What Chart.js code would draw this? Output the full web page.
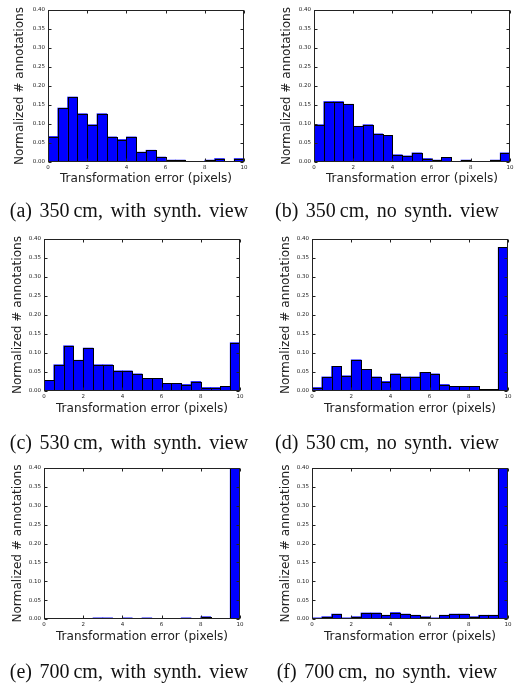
<!DOCTYPE html>
<html>
<head>
<meta charset="utf-8">
<script src="https://cdn.jsdelivr.net/npm/chart.js@4.4.1/dist/chart.umd.min.js"></script>
<style>
  body { margin: 0; background: #fff; }
  #page { position: relative; width: 516px; height: 683px; overflow: hidden; background: #fff; }
  canvas { position: absolute; }
  .cap {
    position: absolute; width: 258px; text-align: center; white-space: nowrap;
    font-family: "Liberation Serif", "Times New Roman", serif; font-size: 20px;
    word-spacing: 2.5px; line-height: 22px; color: #111;
  }
</style>
</head>
<body>
<div id="page">
  <canvas id="ch-a" width="258" height="229"></canvas>
  <canvas id="ch-b" width="258" height="229"></canvas>
  <canvas id="ch-c" width="258" height="229"></canvas>
  <canvas id="ch-d" width="258" height="229"></canvas>
  <canvas id="ch-e" width="258" height="229"></canvas>
  <canvas id="ch-f" width="258" height="229"></canvas>
  <div class="cap" id="cap-a">(a) 350&#8201;cm, with synth. view</div>
  <div class="cap" id="cap-b">(b) 350&#8201;cm, no synth. view</div>
  <div class="cap" id="cap-c">(c) 530&#8201;cm, with synth. view</div>
  <div class="cap" id="cap-d">(d) 530&#8201;cm, no synth. view</div>
  <div class="cap" id="cap-e">(e) 700&#8201;cm, with synth. view</div>
  <div class="cap" id="cap-f">(f) 700&#8201;cm, no synth. view</div>
</div>
<script>
// histogram bins (pixel error), 0.5 wide
const binCenters = [0.25, 0.75, 1.25, 1.75, 2.25, 2.75, 3.25, 3.75, 4.25, 4.75,
                    5.25, 5.75, 6.25, 6.75, 7.25, 7.75, 8.25, 8.75, 9.25, 9.75];
const xTicks = [0, 2, 4, 6, 8, 10];
const yTicks = [0, 0.05, 0.10, 0.15, 0.20, 0.25, 0.30, 0.35, 0.40];

// normalized # annotations per bin
const hist350Synth   = [0.067, 0.142, 0.171, 0.127, 0.098, 0.127, 0.066, 0.059, 0.066, 0.026,
                        0.031, 0.013, 0.005, 0.005, 0, 0, 0.005, 0.009, 0, 0.009];
const hist350NoSynth = [0.098, 0.159, 0.159, 0.152, 0.094, 0.098, 0.074, 0.070, 0.019, 0.016,
                        0.024, 0.009, 0.005, 0.012, 0, 0.005, 0, 0, 0.005, 0.024];
const hist530Synth   = [0.028, 0.069, 0.119, 0.081, 0.113, 0.069, 0.069, 0.053, 0.053, 0.045,
                        0.033, 0.033, 0.020, 0.020, 0.017, 0.025, 0.009, 0.009, 0.012, 0.127];
const hist530NoSynth = [0.009, 0.037, 0.065, 0.040, 0.082, 0.057, 0.037, 0.025, 0.045, 0.037,
                        0.037, 0.049, 0.045, 0.017, 0.012, 0.012, 0.012, 0.004, 0.004, 0.378];
const hist700Synth   = [0, 0, 0, 0, 0, 0.003, 0.003, 0, 0.003, 0,
                        0.003, 0, 0, 0, 0.003, 0, 0.006, 0, 0, 0.95];
const hist700NoSynth = [0.003, 0.006, 0.013, 0.003, 0.006, 0.016, 0.016, 0.010, 0.017, 0.013,
                        0.010, 0.006, 0.003, 0.010, 0.013, 0.013, 0.006, 0.010, 0.010, 0.86];

const xTitle = 'Transformation error (pixels)';
const yTitle = 'Normalized # annotations';

const TITLE_SIZE = 12.1;
const TICK_FONT = { family: 'DejaVu Sans', size: 5.5 };
const TICK_COLOR = '#222';

// frame, inward ticks and bar edges (matplotlib look)
const mplFrame = {
    id: 'mplFrame',
    afterDatasetsDraw(chart) {
        const { ctx, chartArea: a, scales: { x, y } } = chart;
        ctx.save();
        ctx.beginPath();
        ctx.rect(a.left, a.top, a.right - a.left, a.bottom - a.top);
        ctx.clip();
        ctx.strokeStyle = '#000';
        ctx.lineWidth = 1;
        chart.getDatasetMeta(0).data.forEach(bar => {
            const p = bar.getProps(['x', 'y', 'base', 'width'], true);
            const l = Math.round(p.x - p.width / 2) + 0.5;
            const r = Math.round(p.x + p.width / 2) + 0.5;
            const t = Math.round(p.y) + 0.5;
            const b = Math.round(p.base) + 0.5;
            ctx.strokeRect(l, t, r - l, b - t);
        });
        ctx.restore();

        ctx.save();
        ctx.strokeStyle = '#222';
        ctx.lineWidth = 1;
        const L = Math.round(a.left) + 0.5, R = Math.round(a.right) - 0.5;
        const T = Math.round(a.top) + 0.5, B = Math.round(a.bottom) - 0.5;
        ctx.strokeRect(L, T, R - L, B - T);
        ctx.beginPath();
        const len = 3;
        x.ticks.forEach(tk => {
            const px = Math.round(x.getPixelForValue(tk.value)) + 0.5;
            ctx.moveTo(px, T); ctx.lineTo(px, T + len);
            ctx.moveTo(px, B); ctx.lineTo(px, B - len);
        });
        y.ticks.forEach(tk => {
            const py = Math.round(y.getPixelForValue(tk.value)) + 0.5;
            ctx.moveTo(L, py); ctx.lineTo(L + len, py);
            ctx.moveTo(R, py); ctx.lineTo(R - len, py);
        });
        ctx.stroke();
        ctx.restore();
    }
};

function newHist(id, values, box) {
    const canvas = document.getElementById(id);
    canvas.style.left = box.colX + 'px';
    canvas.style.top = box.rowY + 'px';
    const H = canvas.height;
    const padTop = box.top - box.rowY;
    const xBoxH = box.xTitleY + TITLE_SIZE / 2 - box.bottom;
    const padBottom = H - (box.bottom - box.rowY) - xBoxH;
    const padLeft = box.yTitleX - TITLE_SIZE / 2 - box.colX;
    const yBoxW = box.left - box.colX - padLeft;
    const padRight = box.colX + 258 - box.right;

    return new Chart(canvas, {
        type: 'bar',
        data: {
            datasets: [{
                data: binCenters.map((c, i) => ({ x: c, y: values[i] })),
                backgroundColor: '#0000ff',
                borderWidth: 0,
                barPercentage: 1,
                categoryPercentage: 1
            }]
        },
        options: {
            responsive: false,
            animation: false,
            devicePixelRatio: 1,
            layout: { padding: { top: padTop, bottom: padBottom, left: padLeft, right: padRight } },
            plugins: { legend: { display: false }, tooltip: { enabled: false } },
            scales: {
                x: {
                    type: 'linear', min: 0, max: 10, offset: false,
                    grid: { display: false, drawTicks: false, offset: false },
                    border: { display: false },
                    afterBuildTicks: s => { s.ticks = xTicks.map(v => ({ value: v })); },
                    afterFit: s => { s.height = xBoxH; },
                    ticks: {
                        padding: 2, maxRotation: 0, autoSkip: false,
                        font: TICK_FONT, color: TICK_COLOR,
                        callback: v => String(v)
                    },
                    title: {
                        display: true, text: xTitle, color: '#222', padding: 0,
                        font: { family: 'DejaVu Sans', size: TITLE_SIZE, lineHeight: 1 }
                    }
                },
                y: {
                    min: 0, max: 0.4,
                    grid: { display: false, drawTicks: false },
                    border: { display: false },
                    afterBuildTicks: s => { s.ticks = yTicks.map(v => ({ value: v })); },
                    afterFit: s => { s.width = yBoxW; },
                    ticks: {
                        padding: 3, font: TICK_FONT, color: TICK_COLOR,
                        callback: v => v.toFixed(2)
                    },
                    title: {
                        display: true, text: yTitle, color: '#222', padding: 0,
                        font: { family: 'DejaVu Sans', size: TITLE_SIZE, lineHeight: 1 }
                    }
                }
            }
        },
        plugins: [mplFrame]
    });
}

function placeCaption(id, colX, centerY) {
    const el = document.getElementById(id);
    el.style.left = colX + 'px';
    el.style.top = (centerY - 11) + 'px';
}

newHist('ch-a', hist350Synth,   { colX: 0,   rowY: 0,   left: 48,  right: 244, top: 10,  bottom: 162, yTitleX: 20,  xTitleY: 179 });
newHist('ch-b', hist350NoSynth, { colX: 258, rowY: 0,   left: 314, right: 510, top: 10,  bottom: 162, yTitleX: 287, xTitleY: 179 });
newHist('ch-c', hist530Synth,   { colX: 0,   rowY: 229, left: 44,  right: 240, top: 239, bottom: 391, yTitleX: 18,  xTitleY: 409 });
newHist('ch-d', hist530NoSynth, { colX: 258, rowY: 229, left: 312, right: 508, top: 239, bottom: 391, yTitleX: 286, xTitleY: 409 });
newHist('ch-e', hist700Synth,   { colX: 0,   rowY: 458, left: 44,  right: 240, top: 468, bottom: 619, yTitleX: 18,  xTitleY: 637 });
newHist('ch-f', hist700NoSynth, { colX: 258, rowY: 458, left: 312, right: 508, top: 468, bottom: 619, yTitleX: 286, xTitleY: 637 });

placeCaption('cap-a', 0, 210);
placeCaption('cap-b', 258, 210);
placeCaption('cap-c', 0, 442);
placeCaption('cap-d', 258, 442);
placeCaption('cap-e', 0, 671);
placeCaption('cap-f', 258, 671);
</script>
</body>
</html>
